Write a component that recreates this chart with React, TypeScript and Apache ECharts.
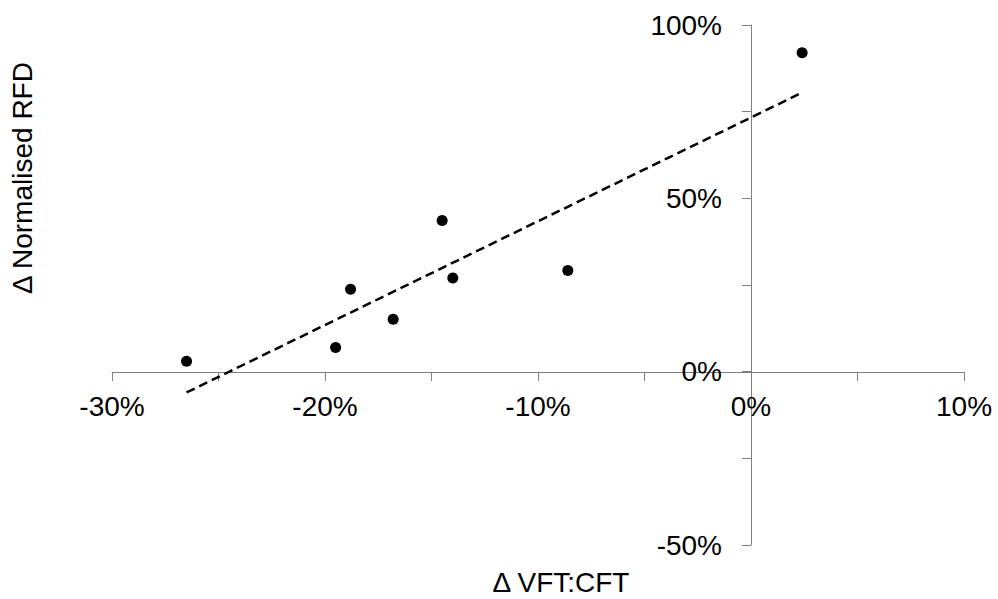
import React, { useEffect, useRef } from "react";
import * as echarts from "echarts";

// Data (percent units)
const vftCft: number[] = [-26.5, -19.5, -18.8, -16.8, -14.5, -14.0, -8.6, 2.4];
const normRfd: number[] = [3.0, 7.0, 23.8, 15.1, 43.6, 27.0, 29.2, 92.0];
const trendX: number[] = [-26.5, 2.4];
const trendY: number[] = [-6.0, 80.5];
const xTitle = "Δ VFT:CFT";
const yTitle = "Δ Normalised RFD";

export default function App() {
  const ref = useRef<HTMLDivElement>(null);
  useEffect(() => {
    if (!ref.current) return;
    const chart = echarts.init(ref.current, undefined, { renderer: "svg" });
    const font = "'Liberation Sans', Arial, sans-serif";
    const axisColor = "#7f7f7f";
    const gridLeft = 112, gridRight = 34, gridTop = 25, gridBottom = 54;
    const W = 998, H = 599;
    const xMin = -30, xMax = 10, yMin = -50, yMax = 100;
    const plotW = W - gridLeft - gridRight;
    const plotH = H - gridTop - gridBottom;
    // offsets so the axes cross at zero
    const yAxisOffset = -Math.round(((0 - xMin) / (xMax - xMin)) * plotW);
    const xAxisOffset = -Math.round(((0 - yMin) / (yMax - yMin)) * plotH);
    chart.setOption({
      animation: false,
      backgroundColor: "#ffffff",
      grid: { left: gridLeft, right: gridRight, top: gridTop, bottom: gridBottom, containLabel: false },
      xAxis: {
        type: "value",
        min: xMin,
        max: xMax,
        interval: 5,
        position: "bottom",
        offset: xAxisOffset,
        splitLine: { show: false },
        axisLine: { show: true, onZero: false, lineStyle: { color: axisColor, width: 1 } },
        axisTick: { show: true, inside: false, length: 9, lineStyle: { color: axisColor } },
        axisLabel: {
          margin: 20,
          color: "#000",
          fontFamily: font,
          fontSize: 28,
          formatter: (v: number) => (Math.round(v) % 10 === 0 ? `${Math.round(v)}%` : ""),
        },
      },
      yAxis: {
        type: "value",
        min: yMin,
        max: yMax,
        interval: 25,
        position: "left",
        offset: yAxisOffset,
        splitLine: { show: false },
        axisLine: { show: true, onZero: false, lineStyle: { color: axisColor, width: 1 } },
        axisTick: { show: true, inside: false, length: 9, lineStyle: { color: axisColor } },
        axisLabel: {
          margin: 29,
          color: "#000",
          fontFamily: font,
          fontSize: 28,
          formatter: (v: number) => (Math.round(v) % 50 === 0 ? `${Math.round(v)}%` : ""),
        },
      },
      series: [
        {
          type: "line",
          data: trendX.map((x, i) => [x, trendY[i]]),
          showSymbol: false,
          symbol: "none",
          lineStyle: { color: "#000", width: 2.5, type: [9, 5] },
          z: 2,
        },
        {
          type: "scatter",
          data: vftCft.map((x, i) => [x, normRfd[i]]),
          symbol: "circle",
          symbolSize: 11,
          itemStyle: { color: "#000", opacity: 1 },
          z: 3,
        },
      ],
      graphic: [
        {
          type: "text",
          x: 561,
          y: 582,
          style: {
            text: xTitle,
            fontFamily: font,
            fontSize: 28,
            fill: "#000",
            align: "center",
            verticalAlign: "middle",
          },
        },
        {
          type: "text",
          x: 22,
          y: 178,
          rotation: Math.PI / 2,
          style: {
            text: yTitle,
            fontFamily: font,
            fontSize: 28,
            fill: "#000",
            align: "center",
            verticalAlign: "middle",
          },
        },
      ],
    });
    return () => chart.dispose();
  }, []);
  return (
    <div
      ref={ref}
      style={{ position: "fixed", left: 0, top: 0, width: 998, height: 599, background: "#fff" }}
    />
  );
}
